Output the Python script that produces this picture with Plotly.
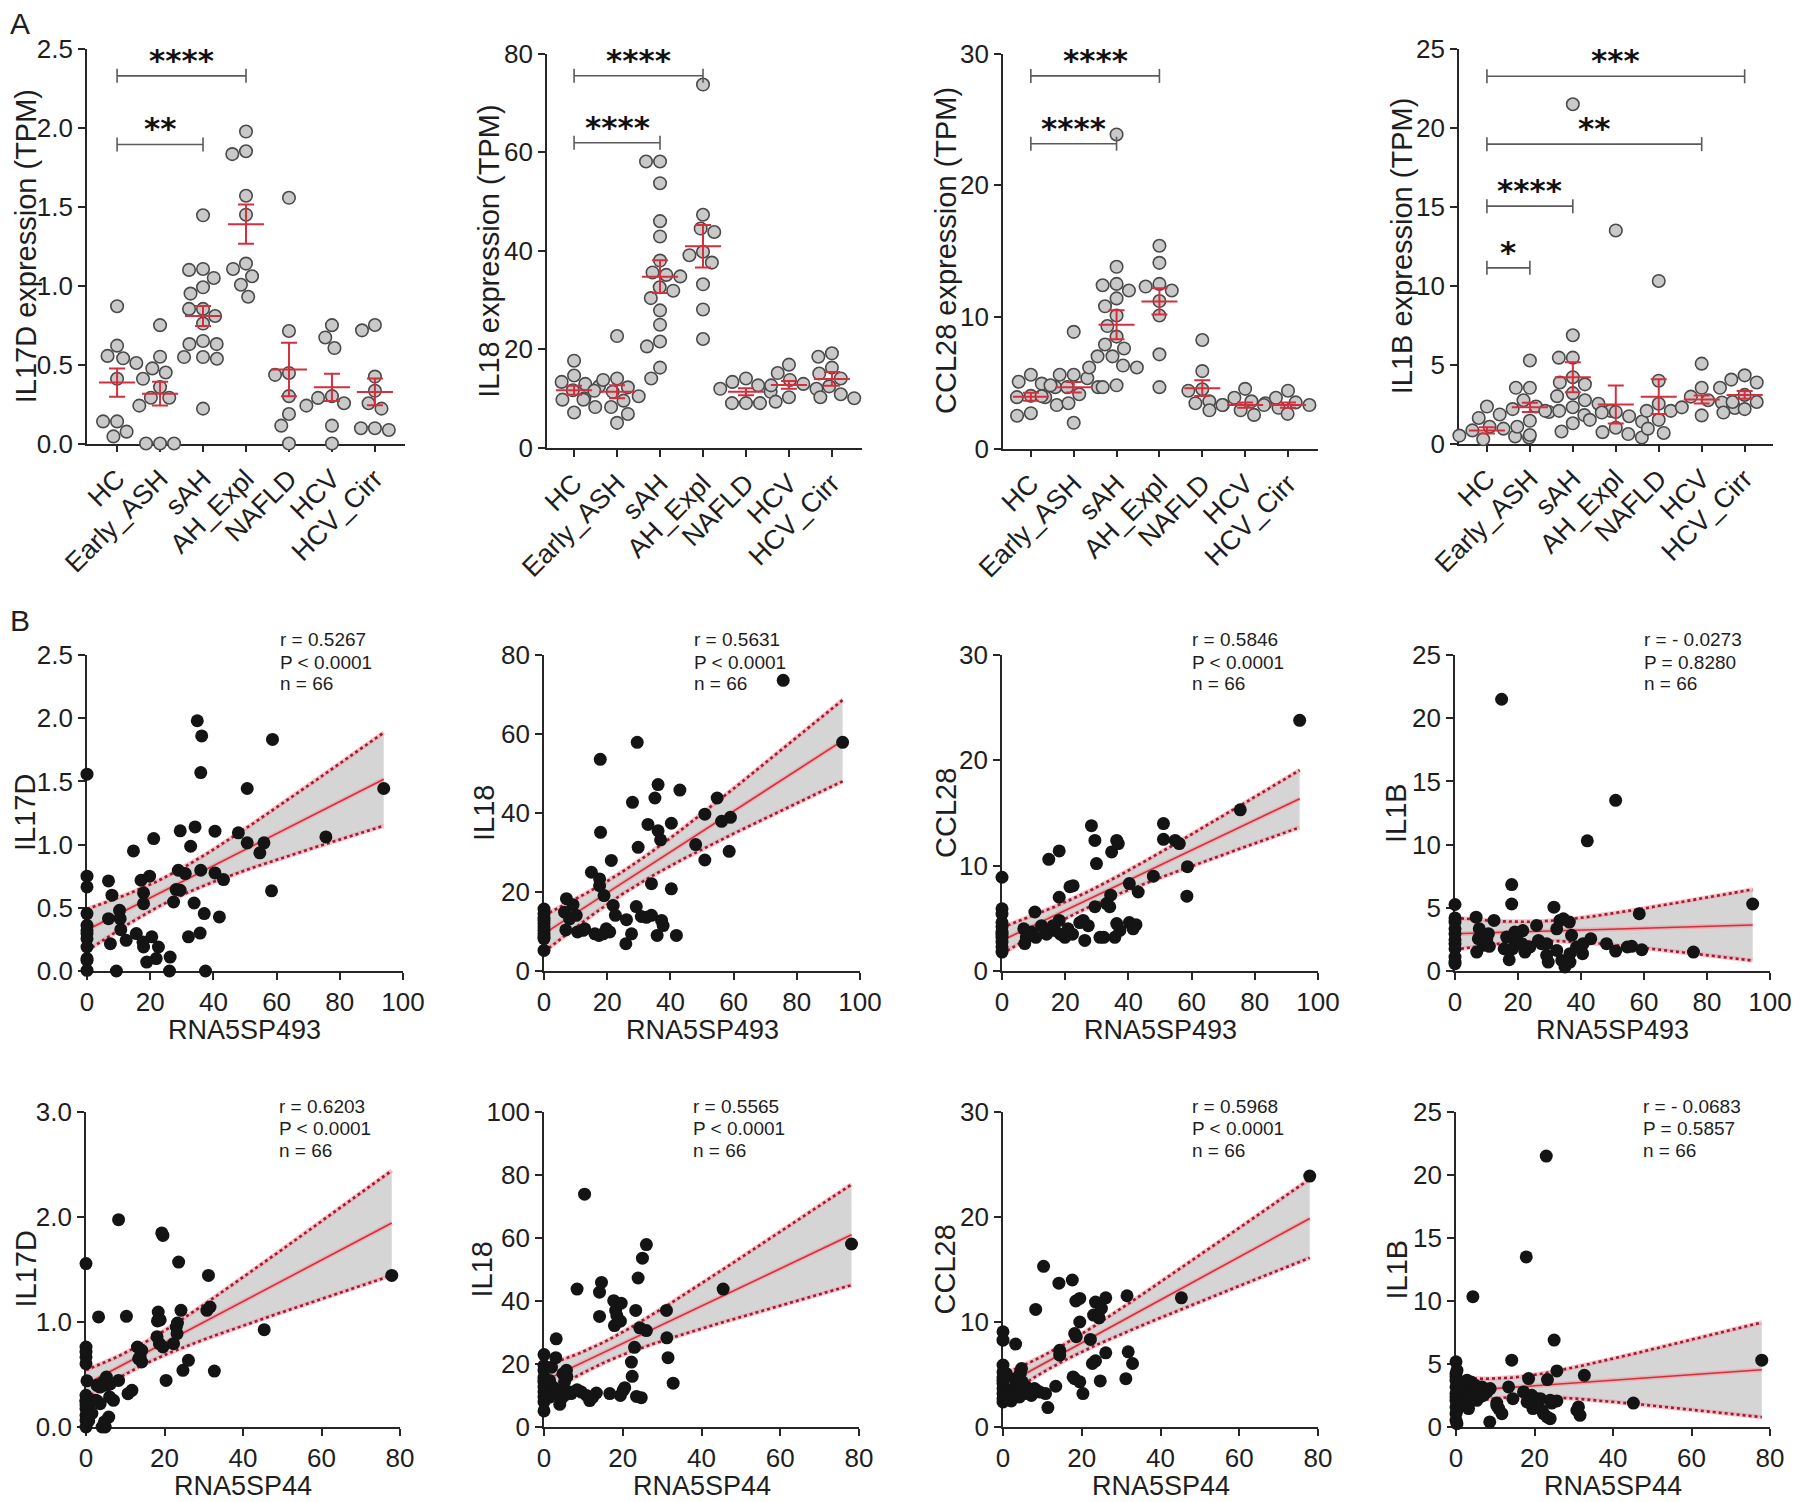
import numpy as np
import plotly.graph_objects as go

W, H = 1800, 1502          # target picture size
OFF = 8                    # page body margin of the browser
FW, FH = W - OFF, H - OFF  # figure size so that picture pixels map 1:1
FONT = "Liberation Sans, Arial, Helvetica, sans-serif"
STAR_FONT = "DejaVu Sans, sans-serif"

# ---------------- Panel A data ----------------
GROUPS = ["HC", "Early_ASH", "sAH", "AH_Expl", "NAFLD", "HCV", "HCV_Cirr"]

IL17D_GROUPS = [
    [0.87, 0.62, 0.555, 0.54, 0.51, 0.41, 0.14, 0.14, 0.075, 0.045],
    [0.75, 0.55, 0.476, 0.45, 0.41, 0.357, 0.29, 0.29, 0.24, 0.0, 0.0, 0.0],
    [1.446, 1.10, 1.106, 1.049, 0.99, 0.95, 0.853, 0.853, 0.808, 0.76, 0.65, 0.63, 0.63, 0.548, 0.548, 0.537, 0.221],
    [1.977, 1.852, 1.834, 1.57, 1.45, 1.14, 1.106, 1.06, 1.006, 0.93],
    [1.557, 0.713, 0.447, 0.435, 0.30, 0.187, 0.113, 0.0],
    [0.75, 0.672, 0.605, 0.30, 0.289, 0.255, 0.24, 0.113, 0.0],
    [0.751, 0.717, 0.424, 0.334, 0.255, 0.221, 0.097, 0.097, 0.086],
]
IL17D_MEAN = [0.386, 0.316, 0.808, 1.39, 0.469, 0.356, 0.327]
IL17D_SEM = [0.09, 0.075, 0.063, 0.124, 0.17, 0.086, 0.085]
IL17D_SIG = [(0, 3, 2.33, "****"), (0, 2, 1.895, "**")]

IL18_GROUPS = [
    [17.7, 14.7, 13.4, 13.0, 12.5, 11.7, 10.1, 9.8, 8.3, 7.2],
    [22.7, 14.1, 13.8, 12.3, 11.6, 11.4, 10.5, 9.8, 9.6, 8.3, 6.9, 5.1],
    [58.1, 58.1, 53.7, 46.0, 42.9, 38.0, 35.6, 35.1, 34.8, 32.6, 31.9, 30.4, 27.9, 25.0, 21.6, 20.6, 16.3, 14.1],
    [73.7, 47.3, 44.5, 43.8, 39.8, 39.1, 37.6, 33.2, 28.1, 22.1],
    [14.1, 13.4, 12.7, 12.0, 11.4, 9.1, 9.1, 9.1],
    [16.9, 15.2, 13.8, 13.0, 12.7, 12.0, 10.3, 9.4],
    [19.2, 18.5, 16.3, 15.1, 14.1, 12.5, 10.9, 10.3, 10.1],
]
IL18_MEAN = [11.7, 11.4, 34.75, 40.9, 11.4, 12.8, 14.0]
IL18_SEM = [0.9, 1.3, 3.3, 4.3, 0.7, 0.8, 1.4]
IL18_SIG = [(0, 3, 75.5, "****"), (0, 2, 61.9, "****")]

CCL28_GROUPS = [
    [5.6, 5.07, 4.93, 4.66, 4.0, 3.9, 3.9, 3.85, 3.3, 2.68, 2.49],
    [8.86, 5.6, 5.6, 5.34, 4.8, 4.66, 4.66, 4.12, 3.98, 3.44, 1.95],
    [23.85, 13.8, 12.5, 12.4, 12.0, 11.4, 10.8, 10.1, 9.3, 8.5, 7.9, 7.6, 7.0, 7.0, 6.3, 6.15, 6.15, 4.8, 4.66],
    [15.4, 14.1, 12.5, 12.3, 12.0, 11.2, 10.1, 7.15, 4.66],
    [8.24, 5.88, 4.5, 4.39, 3.58, 3.44, 3.3],
    [4.53, 3.85, 3.58, 3.44, 3.3, 3.09, 2.9, 2.9],
    [4.39, 3.85, 3.5, 3.3, 3.3, 3.17, 2.63, 2.55],
]
CCL28_MEAN = [3.93, 4.66, 9.4, 11.17, 4.58, 3.3, 3.3]
CCL28_SEM = [0.3, 0.4, 1.1, 1.0, 0.6, 0.2, 0.2]
CCL28_SIG = [(0, 3, 28.3, "****"), (0, 2, 23.15, "****")]

IL1B_GROUPS = [
    [2.34, 1.62, 1.06, 0.94, 0.83, 0.5, 0.45, 0.38, 0.38, 0.27],
    [5.26, 3.53, 3.53, 2.74, 2.34, 2.18, 2.0, 1.84, 1.44, 1.06, 0.54],
    [21.5, 6.86, 5.44, 5.44, 4.2, 3.87, 3.75, 3.19, 3.0, 2.74, 2.52, 2.3, 2.07, 2.07, 2.07, 1.8, 1.28, 0.76],
    [13.5, 2.0, 1.96, 1.73, 1.5, 1.39, 1.0, 0.72, 0.6, 0.38],
    [10.3, 3.98, 2.52, 2.07, 2.07, 1.5, 0.94, 0.67],
    [5.06, 3.53, 2.97, 2.74, 2.6, 2.29, 2.25, 1.78],
    [4.32, 4.05, 3.87, 3.53, 3.08, 2.63, 2.63, 2.18, 1.96],
]
IL1B_MEAN = [0.83, 2.29, 4.2, 2.47, 2.97, 2.79, 3.08]
IL1B_SEM = [0.2, 0.3, 0.95, 1.2, 1.1, 0.25, 0.25]
IL1B_SIG = [(0, 6, 23.27, "***"), (0, 5, 18.97, "**"), (0, 2, 15.04, "****"), (0, 1, 11.13, "*")]

# ---------------- Panel B data ----------------
B1_X = [0, 0, 0, 0, 0, 0, 0, 0, 0, 0, 0,
        6.8, 7.9, 6.8, 7.4, 9.3, 10.3, 10.5, 10.7, 12.4,
        14.7, 15.6, 17.1, 17.9, 17.9, 17.7, 18.9, 19.8, 20.5, 21.1,
        21.9, 22.6, 26.3, 26.1, 27.4, 28.2, 29.5, 28.9, 29.5, 31.1,
        32.1, 32.8, 33.9, 34.2, 34.9, 35.8, 36.0, 36.3, 36.0, 37.1,
        37.5, 40.5, 40.5, 43.2, 41.9, 47.9, 50.7, 50.7, 54.7, 56.0,
        58.7, 58.4, 75.6, 93.9, 0, 17.9]
B1_Y = [1.557, 0.75, 0.665, 0.454, 0.362, 0.296, 0.256, 0.098, 0.005, 0.32, 0.085,
        0.713, 0.6, 0.414, 0.216, 0.0, 0.48, 0.414, 0.327, 0.243,
        0.95, 0.296, 0.718, 0.618, 0.533, 0.23, 0.071, 0.75, 0.27, 1.048,
        0.098, 0.19, 0.11, 0.0, 0.546, 0.644, 0.639, 0.797, 1.109, 0.771,
        0.27, 0.987, 0.538, 1.14, 1.98, 0.3, 1.57, 1.86, 0.797, 0.454,
        0.0, 1.106, 0.776, 0.723, 0.428, 1.093, 1.444, 1.014, 0.935, 1.014,
        1.832, 0.634, 1.061, 1.444, 0.19, 0.19]

B2_X = [0, 0, 0, 0, 0, 0, 0, 0, 0, 0, 0,
        7.1, 9.2, 6.5, 8.1, 10.2, 6.9, 10.6, 12.4,
        15.0, 16.1, 17.4, 17.8, 17.9, 17.6, 17.6, 19.0, 19.7, 20.8,
        21.3, 21.9, 22.6, 26.1, 25.9, 27.7, 28.0, 29.5, 29.8, 29.2,
        30.8, 32.4, 32.9, 34.0, 34.0, 35.1, 36.1, 36.1, 36.9, 35.8,
        37.2, 37.7, 40.3, 40.3, 41.9, 43.0, 48.0, 50.9, 50.9, 54.8,
        56.2, 59.0, 58.6, 75.7, 94.5, 12.9, 18.7]
B2_Y = [15.7, 14.5, 13.5, 12.8, 12.0, 11.2, 10.3, 9.4, 8.6, 8.2, 5.2,
        18.3, 16.8, 14.9, 13.2, 14.1, 10.4, 9.9, 10.3,
        25.0, 9.4, 9.0, 53.6, 35.1, 23.3, 21.6, 19.1, 10.7, 9.9,
        28.0, 16.6, 14.1, 13.0, 6.9, 9.4, 42.7, 57.9, 31.3, 16.3,
        13.8, 13.6, 37.1, 14.1, 22.1, 43.8, 47.2, 35.5, 33.2, 9.0,
        12.8, 11.5, 37.4, 20.8, 9.0, 45.8, 32.0, 39.7, 28.1, 43.8,
        37.9, 38.9, 30.3, 73.6, 57.9, 10.7, 9.4]

B3_X = [0, 0, 0, 0, 0, 0, 0, 0, 0, 0, 0,
        6.9, 7.7, 7.2, 9.3, 10.4, 10.7, 12.5, 14.8, 16.2, 16.7,
        18.1, 18.1, 18.1, 18.5, 19.9, 20.9, 21.5, 22.5, 22.3, 25.7,
        27.3, 26.2, 28.3, 29.4, 29.4, 29.9, 31.0, 32.2, 33.1, 34.1,
        34.4, 34.7, 36.3, 36.8, 35.7, 36.3, 37.3, 40.3, 40.3, 42.4,
        43.1, 47.9, 51.1, 51.1, 54.8, 56.1, 58.7, 58.5, 75.4, 94.2,
        8.8, 14.1, 20.4, 24.6, 41.5]
B3_Y = [8.9, 5.9, 5.4, 4.6, 4.2, 3.7, 3.5, 3.2, 2.75, 2.3, 1.8,
        4.0, 3.2, 2.6, 3.7, 5.6, 3.2, 4.3, 10.6, 4.3, 3.85,
        7.0, 11.4, 4.8, 3.5, 3.2, 4.0, 8.0, 8.1, 3.5, 4.8,
        4.3, 2.9, 13.8, 12.4, 6.1, 10.2, 3.2, 3.2, 6.4, 6.1,
        7.2, 11.3, 12.4, 12.1, 3.2, 4.5, 3.85, 8.3, 4.6, 4.4,
        7.5, 9.0, 14.0, 12.5, 12.4, 12.1, 9.9, 7.1, 15.3, 23.8,
        3.5, 3.5, 3.5, 4.6, 4.0]

B4_X = [0, 0, 0, 0, 0, 0, 0, 0, 0, 0, 0,
        6.7, 6.9, 7.7, 7.4, 9.0, 10.6, 10.9, 12.4, 14.8, 15.6,
        17.2, 18.0, 18.0, 18.0, 18.3, 19.0, 19.8, 21.5, 21.2, 22.2,
        25.9, 26.5, 27.5, 29.1, 29.6, 31.4, 32.3, 33.3, 34.4, 33.9,
        34.9, 36.3, 37.0, 36.5, 36.5, 38.6, 40.5, 40.7, 42.0, 43.1,
        48.1, 51.0, 51.0, 54.7, 56.1, 58.5, 59.3, 75.7, 94.5,
        19.6, 23.8, 16.4, 29.1, 32.3, 10.1]
B4_Y = [5.26, 4.2, 3.87, 3.34, 2.95, 2.47, 2.16, 1.76, 1.1, 0.71, 0.58,
        4.26, 1.5, 3.34, 2.55, 2.03, 2.95, 1.95, 4.0, 21.5, 1.76,
        0.89, 6.84, 5.3, 2.68, 1.76, 3.08, 2.42, 3.2, 2.16, 1.5,
        3.6, 2.42, 2.16, 1.24, 0.71, 5.05, 3.34, 4.0, 4.13, 0.84,
        0.32, 3.87, 2.82, 1.37, 0.71, 1.9, 1.37, 2.16, 10.3, 2.55,
        2.16, 13.5, 1.58, 1.9, 1.95, 4.53, 1.68, 1.5, 5.3,
        2.8, 1.9, 2.68, 2.16, 1.63, 2.55]

B5_X = [0, 0, 0, 0, 0, 0, 0, 0, 0, 0, 0, 0,
        2.4, 3.2, 2.8, 3.6, 4.1, 4.9, 5.2, 5.3, 5.8, 6.0,
        7.0, 8.3, 8.3, 10.3, 10.7, 11.7, 13.1, 14.2, 14.2, 18.2,
        18.4, 18.7, 19.6, 19.3, 19.6, 20.4, 22.3, 23.0, 23.3, 23.6,
        24.2, 24.7, 26.1, 31.2, 30.8, 31.6, 32.7, 45.4, 77.9,
        2.8, 3.6, 4.5, 6.2, 13.8, 18.1, 0.7, 0.7, 1.5, 0.25, 18.9, 23.2, 13.4, 4.7, 0]
B5_Y = [1.556, 0.762, 0.714, 0.667, 0.603, 0.302, 0.254, 0.238, 0.175, 0.11, 0.063, 0.0,
        0.254, 1.048, 0.397, 0.222, 0.0, 0.0, 0.476, 0.397, 0.095, 0.286,
        0.254, 1.975, 0.444, 1.054, 0.317, 0.349, 0.762, 0.73, 0.619, 1.01,
        1.095, 0.794, 0.762, 1.848, 1.825, 0.444, 0.794, 0.952, 0.99, 1.571,
        1.111, 0.54, 0.635, 1.444, 1.111, 1.143, 0.533, 0.927, 1.444,
        0.25, 0.38, 0.43, 0.41, 0.67, 0.86, 0.17, 0.06, 0.13, 0.44, 1.02, 0.89, 0.65, 0.05, 0.21]

B6_X = [0, 0, 0, 0, 0, 0, 0, 0, 0, 0, 0,
        1.9, 3.0, 3.1, 3.1, 4.0, 4.8, 5.2, 5.8, 5.2, 6.9,
        8.4, 8.4, 10.3, 10.8, 11.6, 13.3, 14.1, 14.6, 14.1, 17.7,
        18.2, 18.5, 17.9, 19.6, 19.4, 19.4, 20.5, 22.2, 22.4, 23.0,
        23.3, 23.9, 24.3, 24.7, 25.0, 26.0, 26.0, 31.1, 31.2, 31.5,
        32.8, 45.5, 78.1,
        1.4, 2.3, 4.0, 5.7, 6.5, 9.5, 12.4, 16.7, 20.1, 1.4, 4.4, 23.5]
B6_Y = [23.0, 19.5, 18.0, 15.8, 14.8, 14.3, 12.7, 11.1, 9.5, 7.9, 5.1,
        19.0, 22.0, 28.0, 10.6, 7.2, 16.9, 14.3, 16.0, 10.0, 10.6,
        43.8, 11.8, 73.9, 10.0, 8.4, 10.8, 42.8, 45.9, 35.1, 40.1,
        37.0, 35.4, 32.2, 39.3, 33.6, 10.0, 12.5, 20.6, 16.1, 25.3,
        37.0, 47.3, 31.5, 9.3, 53.6, 57.9, 30.6, 37.0, 28.3, 22.0,
        13.9, 43.8, 58.1,
        14.8, 12.7, 11.6, 18.0, 11.1, 11.1, 9.5, 10.6, 11.6, 9.5, 9.0, 9.7]

B7_X = [0, 0, 0, 0, 0, 0, 0, 0, 0, 0, 0,
        2.1, 3.2, 3.0, 3.4, 4.4, 4.7, 4.9, 5.5, 6.8, 8.0,
        8.3, 8.5, 10.3, 10.8, 11.4, 13.4, 14.2, 14.4, 14.4, 17.6,
        18.2, 18.5, 19.5, 18.2, 19.5, 19.5, 20.3, 22.2, 22.7, 23.5,
        23.0, 23.5, 24.4, 25.0, 24.7, 26.1, 26.1, 31.2, 31.5, 31.8,
        32.9, 45.3, 77.9,
        1.7, 2.5, 3.8, 5.9, 7.2, 4.2, 17.8, 0.8, 1.3, 5.2, 9.3, 18.6]
B7_Y = [9.07, 8.27, 5.9, 5.25, 4.77, 4.45, 4.14, 3.66, 3.18, 2.7, 2.39,
        2.48, 7.9, 4.6, 3.98, 5.1, 5.57, 4.3, 3.18, 3.34, 3.66,
        11.2, 3.5, 15.3, 3.18, 1.85, 3.88, 13.7, 7.3, 6.84, 14.0,
        8.9, 12.0, 12.25, 4.6, 4.3, 10.0, 3.18, 8.34, 6.05, 6.3,
        10.66, 11.9, 10.4, 11.3, 4.39, 12.3, 7.06, 4.6, 12.5, 7.16,
        6.05, 12.3, 23.9,
        3.5, 3.2, 3.66, 3.82, 3.0, 2.86, 4.77, 5.1, 2.86, 3.5, 3.34, 8.6]

B8_X = [0, 0, 0, 0, 0, 0, 0, 0, 0, 0, 0,
        1.5, 3.2, 3.8, 4.3, 4.1, 4.9, 5.3, 6.6, 7.0, 7.9,
        8.6, 10.4, 10.9, 11.7, 13.4, 14.2, 14.5, 17.9, 18.5, 18.1,
        19.3, 19.6, 20.6, 22.3, 23.0, 23.3, 24.0, 25.0, 25.7, 25.7,
        24.4, 31.2, 31.6, 32.7, 45.2, 77.9,
        1.95, 2.8, 3.6, 5.8, 2.4, 1.1, 6.2, 8.7, 10.4, 17.2, 18.9, 21.5, 21.9, 23.2, 24.0,
        0.25, 0.25, 0.25, 30.8]
B8_Y = [5.17, 4.24, 4.0, 3.71, 3.18, 2.65, 2.4, 2.12, 1.59, 1.06, 0.53,
        2.4, 1.46, 3.58, 10.34, 2.78, 3.31, 2.12, 3.18, 2.52, 2.78,
        0.4, 1.9, 1.46, 1.06, 3.18, 5.3, 2.25, 13.5, 3.84, 1.99,
        2.52, 1.46, 2.25, 1.06, 21.5, 3.76, 0.66, 6.9, 4.45, 2.07,
        1.9, 1.59, 0.93, 4.1, 1.9, 5.3,
        3.05, 3.71, 2.52, 2.92, 2.0, 3.58, 2.4, 3.05, 1.7, 2.78, 2.12, 2.25, 1.33, 0.8, 2.12,
        1.33, 4.5, 0.26, 1.33]

B_STATS = [
    ["r = 0.5267", "P < 0.0001", "n = 66"],
    ["r = 0.5631", "P < 0.0001", "n = 66"],
    ["r = 0.5846", "P < 0.0001", "n = 66"],
    ["r = - 0.0273", "P = 0.8280", "n = 66"],
    ["r = 0.6203", "P < 0.0001", "n = 66"],
    ["r = 0.5565", "P < 0.0001", "n = 66"],
    ["r = 0.5968", "P < 0.0001", "n = 66"],
    ["r = - 0.0683", "P = 0.5857", "n = 66"],
]

# ---------------- styling ----------------
AX = "#262626"
TXT = "#1e1e1e"
RED = "#d42f3c"
GRAY_FILL = "#c9c9c9"
GRAY_LINE = "#4a4a4a"
BRACKET = "#5a5a5a"
BAND = "#d5d5d5"
BAND_LINE = "#9c1b33"
HALO = "rgba(242,150,160,0.55)"
TICK_SIZE = 26
TITLE_SIZE = 29


def px_x(px):
    return (px - OFF) / FW


def px_y(py):
    return 1 - (py - OFF) / FH


def xdom(a, b):
    return [px_x(a), px_x(b)]


def ydom(top, bottom):
    return [px_y(bottom), px_y(top)]


def swarm(vals, d_px, xscale, yscale):
    vals = np.asarray(vals, dtype=float)
    order = np.argsort(-vals, kind="stable")
    placed = []
    offs = np.zeros(len(vals))
    for i in order:
        y = vals[i] * yscale
        cands = [0.0]
        for (px, py) in placed:
            dy = abs(py - y)
            if dy < d_px:
                dx = np.sqrt(d_px ** 2 - dy ** 2)
                cands += [px - dx, px + dx]
        cands = sorted(cands, key=lambda c: (abs(c), c))
        chosen = 0.0
        for c in cands:
            if all((c - px) ** 2 + (y - py) ** 2 >= d_px ** 2 - 1e-6 for px, py in placed):
                chosen = c
                break
        placed.append((chosen, y))
        offs[i] = chosen / xscale
    return offs


def regression(x, y, t=1.9977):
    x = np.asarray(x, float)
    y = np.asarray(y, float)
    n = len(x)
    b, a = np.polyfit(x, y, 1)
    resid = y - (a + b * x)
    s = np.sqrt((resid ** 2).sum() / (n - 2))
    xs = np.linspace(x.min(), x.max(), 80)
    sxx = ((x - x.mean()) ** 2).sum()
    se = s * np.sqrt(1.0 / n + (xs - x.mean()) ** 2 / sxx)
    yh = a + b * xs
    return xs, yh, yh - t * se, yh + t * se


fig = go.Figure()
annotations = []

axis_base = dict(showline=True, linecolor=AX, linewidth=1.6, ticks="outside", ticklen=7,
                 tickwidth=1.6, tickcolor=AX, showgrid=False, zeroline=False, automargin=False,
                 tickfont=dict(family=FONT, size=TICK_SIZE, color=TXT), layer="below traces")

# ---------------- Panel A ----------------
A_PANELS = [
    dict(groups=IL17D_GROUPS, mean=IL17D_MEAN, sem=IL17D_SEM, sig=IL17D_SIG, ymax=2.5, dtick=0.5,
         fmt=".1f", title="IL17D expression (TPM)", xd=(87, 405), yd=(49, 443.5), xr=(-0.7, 6.7), tx=26),
    dict(groups=IL18_GROUPS, mean=IL18_MEAN, sem=IL18_SEM, sig=IL18_SIG, ymax=80, dtick=20,
         fmt="d", title="IL18 expression (TPM)", xd=(547, 862), yd=(53.5, 448), xr=(-0.63, 6.7), tx=489),
    dict(groups=CCL28_GROUPS, mean=CCL28_MEAN, sem=CCL28_SEM, sig=CCL28_SIG, ymax=30, dtick=10,
         fmt="d", title="CCL28 expression (TPM)", xd=(1003, 1318), yd=(53.5, 448.5), xr=(-0.65, 6.7), tx=946),
    dict(groups=IL1B_GROUPS, mean=IL1B_MEAN, sem=IL1B_SEM, sig=IL1B_SIG, ymax=25, dtick=5,
         fmt="d", title="IL1B expression (TPM)", xd=(1459, 1773), yd=(49, 443.5), xr=(-0.65, 6.66), tx=1402),
]

for k, p in enumerate(A_PANELS):
    n = k + 1
    xa = "x" if n == 1 else f"x{n}"
    ya = "y" if n == 1 else f"y{n}"
    xscale = (p["xd"][1] - p["xd"][0]) / (p["xr"][1] - p["xr"][0])
    yscale = (p["yd"][1] - p["yd"][0]) / p["ymax"]
    xs_all, ys_all = [], []
    for gi, vals in enumerate(p["groups"]):
        offs = swarm(vals, 14.0, xscale, yscale)
        xs_all += list(gi + offs)
        ys_all += list(vals)
    fig.add_trace(go.Scatter(x=xs_all, y=ys_all, mode="markers", xaxis=xa, yaxis=ya,
                             marker=dict(size=12.5, color=GRAY_FILL, line=dict(color=GRAY_LINE, width=1.6)),
                             cliponaxis=False, showlegend=False, hoverinfo="skip"))
    mx, my = [], []
    for gi, m in enumerate(p["mean"]):
        mx += [gi - 0.42, gi + 0.42, None]
        my += [m, m, None]
    fig.add_trace(go.Scatter(x=mx, y=my, mode="lines", xaxis=xa, yaxis=ya,
                             line=dict(color=RED, width=2), showlegend=False, hoverinfo="skip"))
    fig.add_trace(go.Scatter(x=list(range(len(GROUPS))), y=p["mean"], mode="markers", xaxis=xa, yaxis=ya,
                             marker=dict(size=1, color="rgba(0,0,0,0)"),
                             error_y=dict(type="data", array=p["sem"], color=RED, thickness=2, width=8),
                             showlegend=False, hoverinfo="skip"))
    for (g0, g1, lvl, stars) in p["sig"]:
        fig.add_trace(go.Scatter(x=[g0, g1], y=[lvl, lvl], mode="lines+markers", xaxis=xa, yaxis=ya,
                                 line=dict(color=BRACKET, width=1.6),
                                 marker=dict(symbol="line-ns", size=10, line=dict(color=BRACKET, width=1.6)),
                                 cliponaxis=False, showlegend=False, hoverinfo="skip"))
        annotations.append(dict(x=(g0 + g1) / 2, y=lvl, xref=xa, yref=ya, text="<b>%s</b>" % stars,
                                showarrow=False, xanchor="center", yanchor="middle", yshift=16,
                                font=dict(family=STAR_FONT, size=31, color="#111111")))
    fig.layout[f"xaxis{'' if n == 1 else n}"] = dict(
        axis_base, domain=xdom(*p["xd"]), range=list(p["xr"]), anchor=ya,
        tickmode="array", tickvals=list(range(len(GROUPS))), ticktext=GROUPS, tickangle=-45,
        tickfont=dict(family=FONT, size=27, color=TXT))
    fig.layout[f"yaxis{'' if n == 1 else n}"] = dict(
        axis_base, domain=ydom(*p["yd"]), range=[0, p["ymax"]], anchor=xa,
        dtick=p["dtick"], tick0=0, tickformat=p["fmt"])
    annotations.append(dict(x=px_x(p["tx"]), y=px_y((p["yd"][0] + p["yd"][1]) / 2), xref="paper", yref="paper",
                            text=p["title"], textangle=-90, showarrow=False, xanchor="center", yanchor="middle",
                            font=dict(family=FONT, size=TITLE_SIZE, color=TXT)))

# ---------------- Panel B ----------------
B_PANELS = [
    dict(x=B1_X, y=B1_Y, ymax=2.5, dtick=0.5, fmt=".1f", xmax=100, yt="IL17D", xt="RNA5SP493",
         xd=(87, 403), yd=(655, 971), tx=25, sx=278),
    dict(x=B2_X, y=B2_Y, ymax=80, dtick=20, fmt="d", xmax=100, yt="IL18", xt="RNA5SP493",
         xd=(544, 860), yd=(655, 971), tx=484, sx=692),
    dict(x=B3_X, y=B3_Y, ymax=30, dtick=10, fmt="d", xmax=100, yt="CCL28", xt="RNA5SP493",
         xd=(1002, 1318), yd=(655, 971), tx=946, sx=1190),
    dict(x=B4_X, y=B4_Y, ymax=25, dtick=5, fmt="d", xmax=100, yt="IL1B", xt="RNA5SP493",
         xd=(1455, 1770), yd=(655, 971), tx=1396, sx=1642),
    dict(x=B5_X, y=B5_Y, ymax=3.0, dtick=1.0, fmt=".1f", xmax=80, yt="IL17D", xt="RNA5SP44",
         xd=(86, 400), yd=(1112, 1427), tx=25, sx=277),
    dict(x=B6_X, y=B6_Y, ymax=100, dtick=20, fmt="d", xmax=80, yt="IL18", xt="RNA5SP44",
         xd=(544, 859), yd=(1112, 1427), tx=481, sx=691),
    dict(x=B7_X, y=B7_Y, ymax=30, dtick=10, fmt="d", xmax=80, yt="CCL28", xt="RNA5SP44",
         xd=(1003, 1318), yd=(1112, 1427), tx=944, sx=1190),
    dict(x=B8_X, y=B8_Y, ymax=25, dtick=5, fmt="d", xmax=80, yt="IL1B", xt="RNA5SP44",
         xd=(1456, 1770), yd=(1112, 1427), tx=1396, sx=1641),
]

for k, p in enumerate(B_PANELS):
    n = k + 5
    xa, ya = f"x{n}", f"y{n}"
    xs, yh, lo, hi = regression(p["x"], p["y"])
    fig.add_trace(go.Scatter(x=xs, y=lo, mode="lines", line=dict(width=0, color=BAND), xaxis=xa, yaxis=ya,
                             showlegend=False, hoverinfo="skip"))
    fig.add_trace(go.Scatter(x=xs, y=hi, mode="lines", line=dict(width=0, color=BAND), fill="tonexty",
                             fillcolor=BAND, xaxis=xa, yaxis=ya, showlegend=False, hoverinfo="skip"))
    for arr in (lo, hi, yh):
        fig.add_trace(go.Scatter(x=xs, y=arr, mode="lines", line=dict(width=4.5, color=HALO),
                                 xaxis=xa, yaxis=ya, showlegend=False, hoverinfo="skip"))
    for arr in (lo, hi):
        fig.add_trace(go.Scatter(x=xs, y=arr, mode="lines", line=dict(width=2.6, color=BAND_LINE, dash="dot"),
                                 xaxis=xa, yaxis=ya, showlegend=False, hoverinfo="skip"))
    fig.add_trace(go.Scatter(x=xs, y=yh, mode="lines", line=dict(width=1.6, color=RED),
                             xaxis=xa, yaxis=ya, showlegend=False, hoverinfo="skip"))
    fig.add_trace(go.Scatter(x=p["x"], y=p["y"], mode="markers", xaxis=xa, yaxis=ya,
                             marker=dict(size=13, color="#141414"), cliponaxis=False,
                             showlegend=False, hoverinfo="skip"))
    fig.layout[f"xaxis{n}"] = dict(axis_base, domain=xdom(*p["xd"]), range=[0, p["xmax"]], anchor=ya,
                                   dtick=20, tick0=0)
    fig.layout[f"yaxis{n}"] = dict(axis_base, domain=ydom(*p["yd"]), range=[0, p["ymax"]], anchor=xa,
                                   dtick=p["dtick"], tick0=0, tickformat=p["fmt"])
    annotations.append(dict(x=px_x(p["tx"]), y=px_y((p["yd"][0] + p["yd"][1]) / 2), xref="paper", yref="paper",
                            text=p["yt"], textangle=-90, showarrow=False, xanchor="center", yanchor="middle",
                            font=dict(family=FONT, size=TITLE_SIZE, color=TXT)))
    xt_y = 1030 if k < 4 else 1486
    annotations.append(dict(x=px_x((p["xd"][0] + p["xd"][1]) / 2), y=px_y(xt_y), xref="paper", yref="paper",
                            text=p["xt"], showarrow=False, xanchor="center", yanchor="middle",
                            font=dict(family=FONT, size=27, color=TXT)))
    line_y = [640, 662, 683] if k < 4 else [1106, 1128, 1150]
    for txt, ly in zip(B_STATS[k], line_y):
        annotations.append(dict(x=px_x(p["sx"]), y=px_y(ly), xref="paper", yref="paper", text=txt,
                                showarrow=False, xanchor="left", yanchor="middle",
                                font=dict(family=FONT, size=19, color=TXT)))

annotations.append(dict(x=px_x(20), y=px_y(23), xref="paper", yref="paper", text="A", showarrow=False,
                        xanchor="center", yanchor="middle", font=dict(family=FONT, size=30, color=TXT)))
annotations.append(dict(x=px_x(20), y=px_y(620), xref="paper", yref="paper", text="B", showarrow=False,
                        xanchor="center", yanchor="middle", font=dict(family=FONT, size=30, color=TXT)))

fig.update_layout(template="none", width=FW, height=FH, margin=dict(l=0, r=0, t=0, b=0, pad=0),
                  paper_bgcolor="white", plot_bgcolor="white", showlegend=False,
                  annotations=annotations, font=dict(family=FONT, color=TXT))

fig.write_html("out.html")
